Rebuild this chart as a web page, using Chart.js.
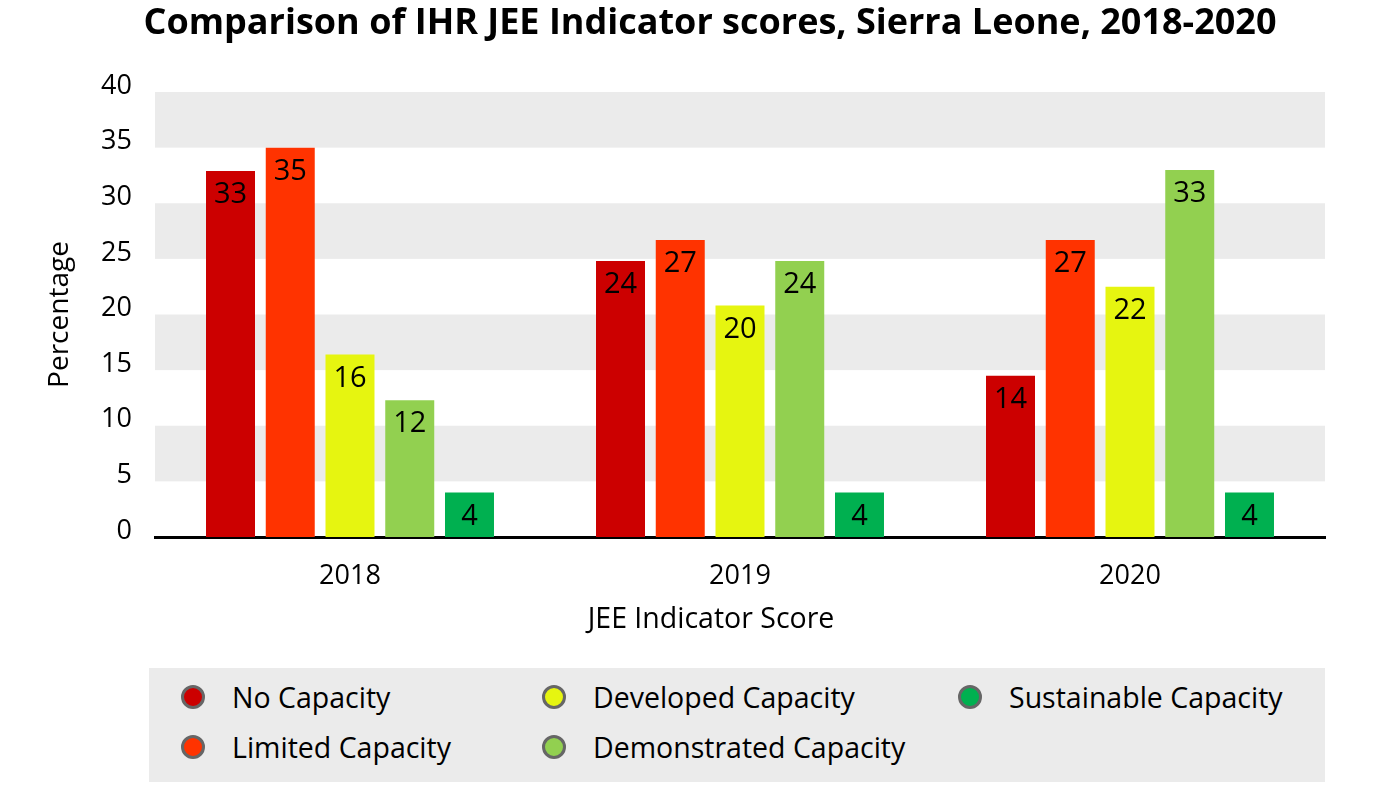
<!DOCTYPE html>
<html>
<head>
<meta charset="utf-8">
<script src="https://cdn.jsdelivr.net/npm/chart.js@4/dist/chart.umd.min.js"></script>
<style>
  html,body{margin:0;padding:0;background:#fff}
  #wrap{position:relative;width:1397px;height:786px}
  #legend{position:absolute;left:149px;top:668px;width:1176px;height:114px;background:#ebebeb;font-family:"Open Sans",sans-serif;font-size:28.5px;color:#000}
  .lg-item{position:absolute;display:flex;align-items:center;white-space:nowrap}
  .lg-dot{width:18px;height:18px;border-radius:50%;border:3px solid #666;margin-right:27px;box-sizing:content-box}
</style>
</head>
<body>
<div id="wrap">
  <canvas id="chart" width="1397" height="786"></canvas>
  <div id="legend"></div>
</div>
<script>
// ---- data ----
const years = ['2018','2019','2020']
const seriesNames = ['No Capacity','Limited Capacity','Developed Capacity','Demonstrated Capacity','Sustainable Capacity']
const seriesColors = ['#cc0000','#ff3300','#e6f510','#92d050','#00b050']
const noCapacity = [32.9, 24.8, 14.5]
const limitedCapacity = [35.0, 26.7, 26.7]
const developedCapacity = [16.4, 20.8, 22.5]
const demonstratedCapacity = [12.3, 24.8, 33.0]
const sustainableCapacity = [4.0, 4.0, 4.0]
// numbers printed on the bars
const noCapacityLabels = [33, 24, 14]
const limitedCapacityLabels = [35, 27, 27]
const developedCapacityLabels = [16, 20, 22]
const demonstratedCapacityLabels = [12, 24, 33]
const sustainableCapacityLabels = [4, 4, 4]
const yTicks = [0,5,10,15,20,25,30,35,40]

const seriesValues = [noCapacity, limitedCapacity, developedCapacity, demonstratedCapacity, sustainableCapacity]
const seriesLabels = [noCapacityLabels, limitedCapacityLabels, developedCapacityLabels, demonstratedCapacityLabels, sustainableCapacityLabels]

const FONT = '"Open Sans", sans-serif'
const TITLE = 'Comparison of IHR JEE Indicator scores, Sierra Leone, 2018-2020'
const X_TITLE = 'JEE Indicator Score'

/* gray bands behind the bars (5-10, 15-20, ...) */
const bandPlugin = {
  id:'bands',
  beforeDatasetsDraw(chart){
    const {ctx, chartArea:a, scales:{y}} = chart
    ctx.save()
    ctx.fillStyle = '#ebebeb'
    for(let i=1;i<yTicks.length-1;i+=2){
      const top = y.getPixelForValue(yTicks[i+1])
      const bot = y.getPixelForValue(yTicks[i])
      ctx.fillRect(a.left, top, a.right-a.left, bot-top)
    }
    ctx.restore()
  }
}

/* value labels inside top of bars */
const valuePlugin = {
  id:'values',
  afterDatasetsDraw(chart){
    const {ctx} = chart
    ctx.save()
    ctx.font = '29px ' + FONT
    ctx.fillStyle = '#000'
    ctx.textAlign = 'center'
    ctx.textBaseline = 'middle'
    chart.data.datasets.forEach((ds,di)=>{
      chart.getDatasetMeta(di).data.forEach((bar,i)=>{
        ctx.fillText(String(seriesLabels[di][i]), bar.x, bar.y + 24)
      })
    })
    ctx.restore()
  }
}

/* chart title + x axis title (centred on the page, not the plot) */
const textPlugin = {
  id:'texts',
  afterDraw(chart){
    const {ctx} = chart
    ctx.save()
    ctx.fillStyle = '#000'
    ctx.textAlign = 'center'
    ctx.textBaseline = 'middle'
    ctx.font = 'bold 36px ' + FONT
    ctx.fillText(TITLE, 710, 24)
    ctx.font = '28.5px ' + FONT
    ctx.fillText(X_TITLE, 711, 620)
    ctx.restore()
  }
}

new Chart(document.getElementById('chart'), {
  type:'bar',
  data:{
    labels: years,
    datasets: seriesNames.map((n,i)=>({
      label:n, data:seriesValues[i], backgroundColor:seriesColors[i],
      categoryPercentage:0.766, barPercentage:0.82
    }))
  },
  options:{
    responsive:false,
    animation:false,
    layout:{padding:{top:92,right:72,bottom:149,left:0}},
    plugins:{
      legend:{display:false},
      tooltip:{enabled:false},
      title:{display:false}
    },
    scales:{
      x:{
        grid:{display:false},
        border:{display:true, color:'#000', width:3},
        ticks:{color:'#000', font:{family:FONT, size:27}, padding:15},
        afterFit(s){ s.height = 100 }
      },
      y:{
        min:0, max:40,
        grid:{display:false, drawTicks:false},
        border:{display:false},
        ticks:{stepSize:5, color:'#000', font:{family:FONT, size:27}, padding:23, labelOffset:-6},
        title:{display:true, text:'Percentage', color:'#000', font:{family:FONT, size:28}, padding:{top:43,bottom:0}},
        afterFit(s){ s.width = 155 }
      }
    }
  },
  plugins:[bandPlugin, valuePlugin, textPlugin]
})

/* legend: 3 columns, filled top-to-bottom */
const legend = document.getElementById('legend')
const colX = [44, 405, 821]
const rowY = [29, 79]
seriesNames.forEach((name,i)=>{
  const item = document.createElement('div')
  item.className = 'lg-item'
  item.style.left = (colX[Math.floor(i/2)] - 12) + 'px'
  item.style.top = (rowY[i%2] - 18) + 'px'
  item.style.height = '36px'
  const dot = document.createElement('span')
  dot.className = 'lg-dot'
  dot.style.background = seriesColors[i]
  const txt = document.createElement('span')
  txt.textContent = name
  item.append(dot, txt)
  legend.append(item)
})
</script>
</body>
</html>
